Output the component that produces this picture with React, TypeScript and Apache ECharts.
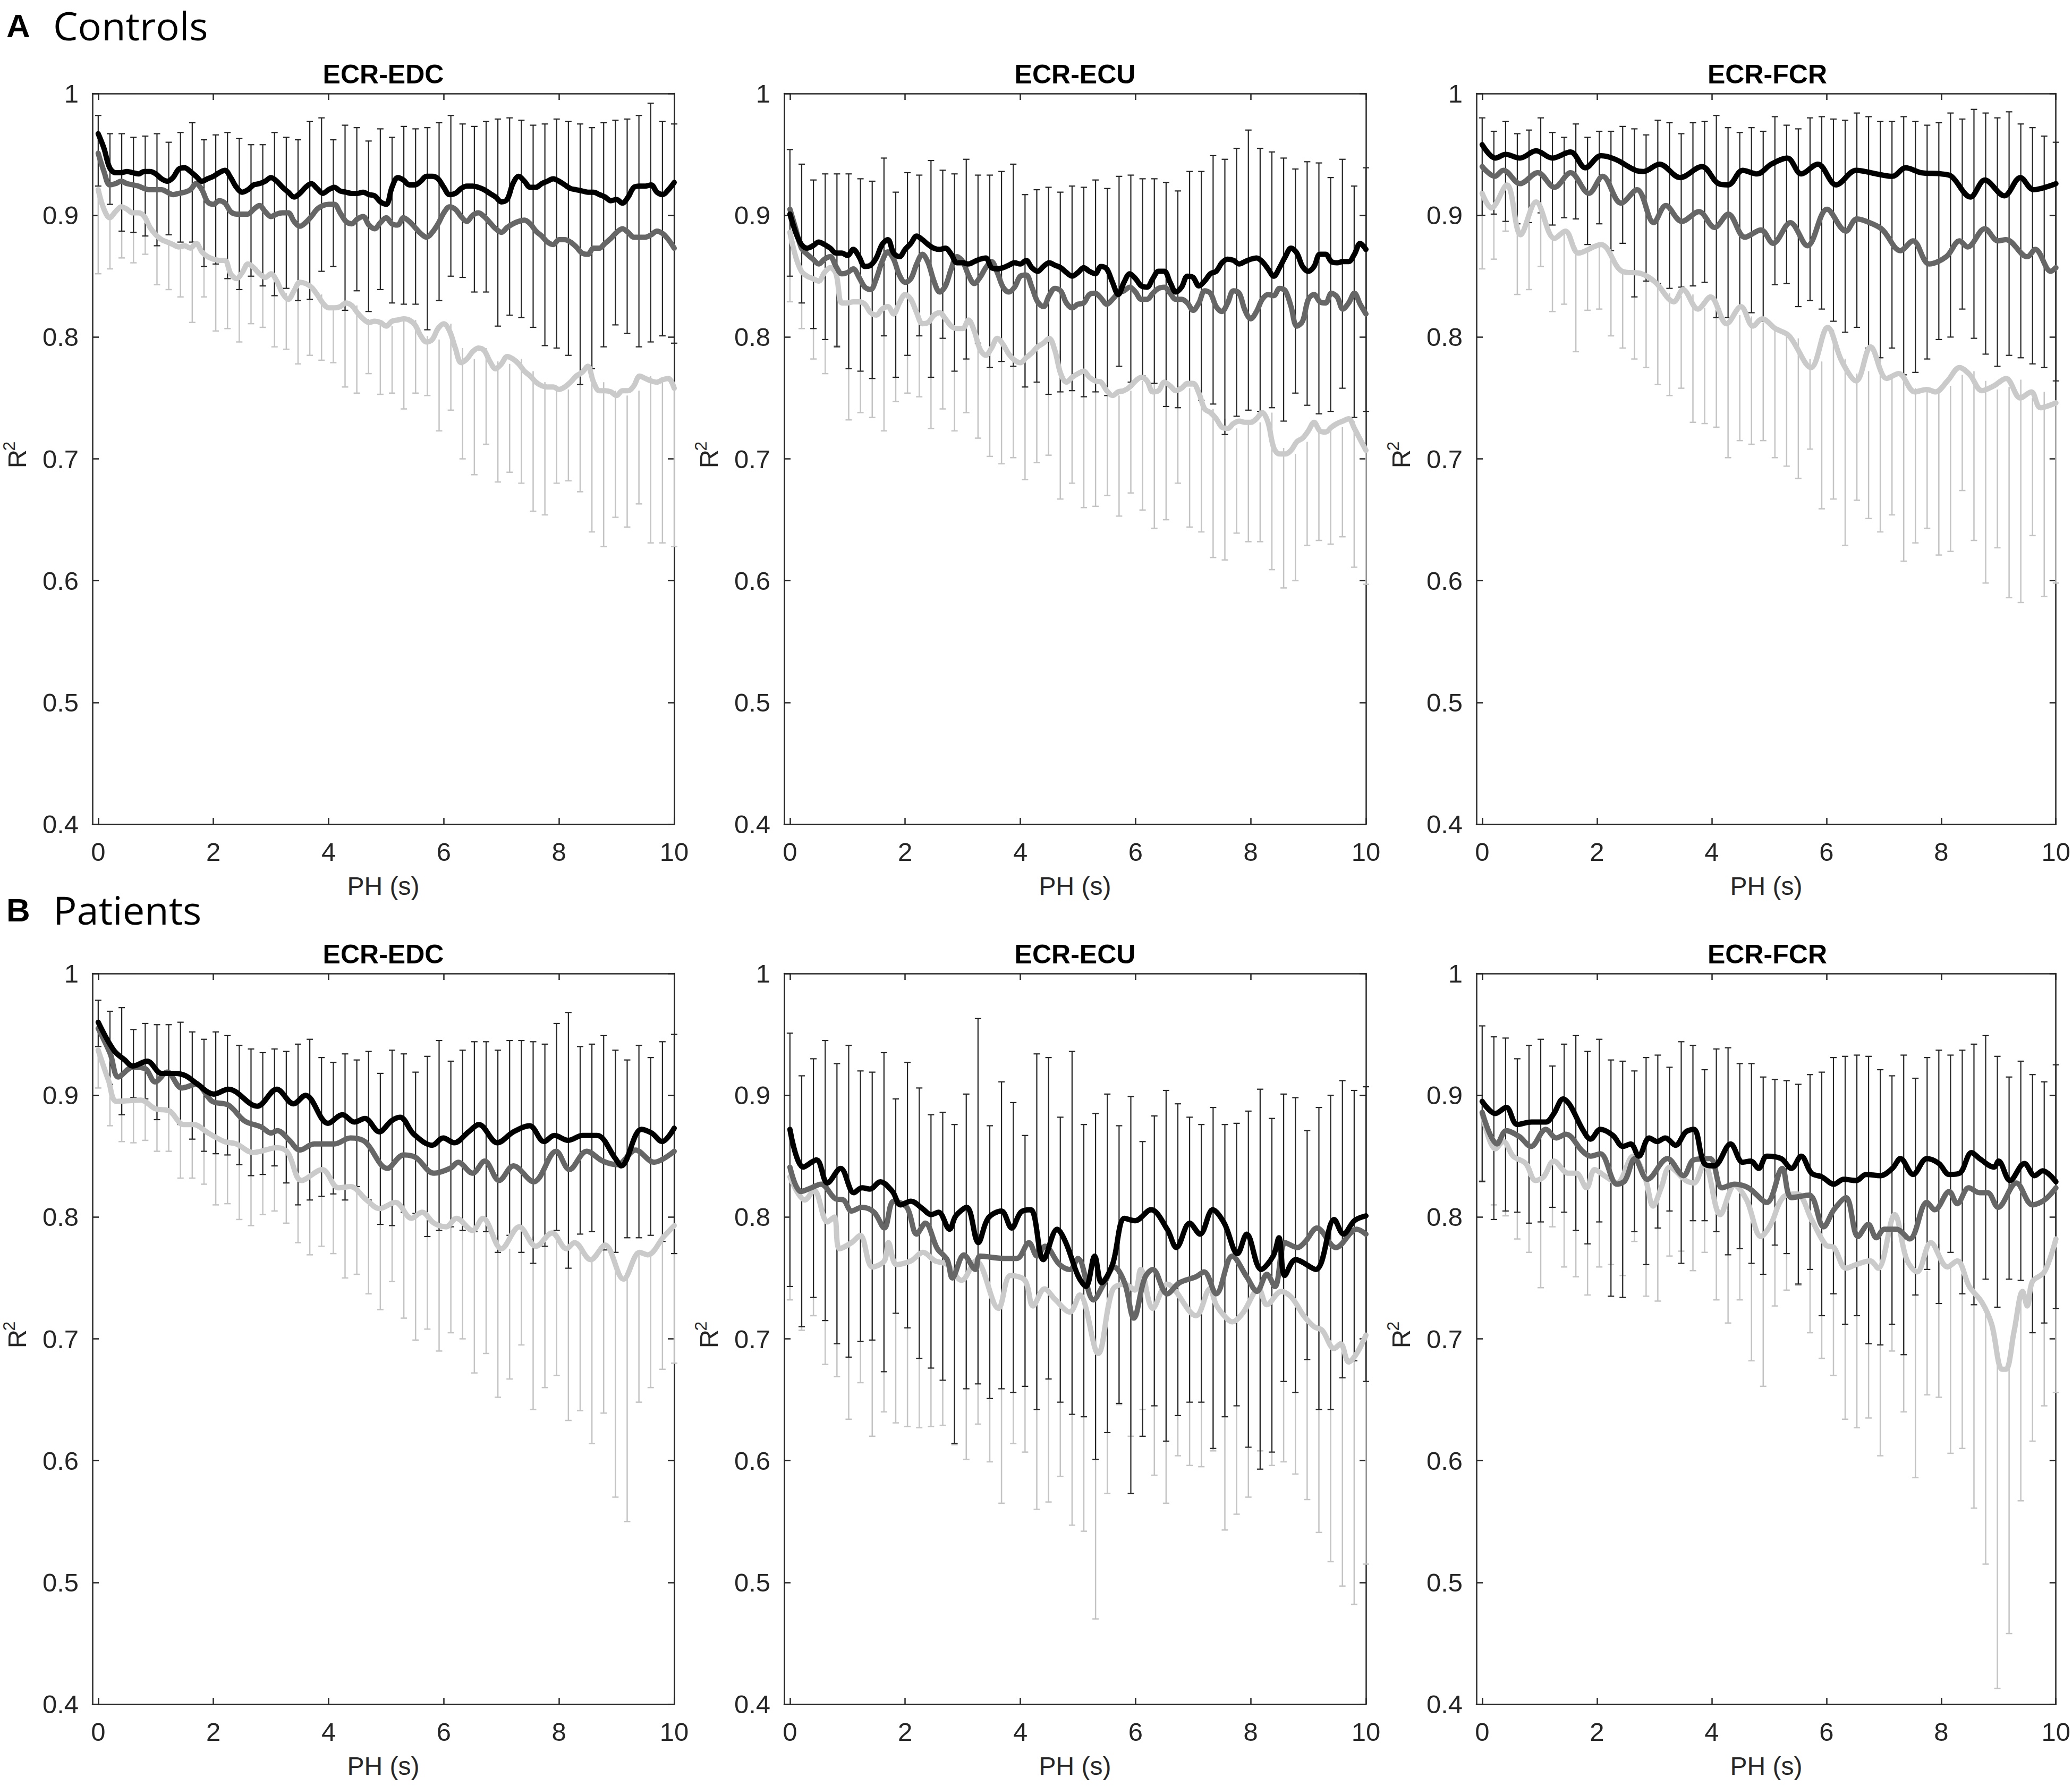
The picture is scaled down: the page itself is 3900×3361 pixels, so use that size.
import React, { useEffect, useRef } from "react";
import * as echarts from "echarts";

// ---------------- layout ----------------
const W = 3900;
const H = 3361;
const COL_LEFT = [174, 1476, 2779];
const ROW_TOP = [176, 1832];
const GW = 1095;
const GH = 1375;

// ---------------- axes ----------------
const X_TICKS = [0, 2, 4, 6, 8, 10];
const X_MIN = -0.1;
const X_MAX = 10;
const Y_MIN = 0.4;
const Y_MAX = 1;
const Y_STEP = 0.1;
const BAR_COUNT = 50;

const TITLES = ["ECR-EDC", "ECR-ECU", "ECR-FCR"];
const GROUP_LABELS = [["A", "Controls"], ["B", "Patients"]];

// ---------------- A: Controls, ECR-EDC (0.1 s steps) ----------------
const A_EDC_BLACK = [
  0.967,0.955,0.939,0.935,0.935,0.936,0.935,0.934,0.936,0.936,
  0.934,0.930,0.928,0.931,0.938,0.939,0.936,0.932,0.928,0.930,
  0.932,0.935,0.937,0.931,0.923,0.919,0.921,0.925,0.926,0.928,
  0.931,0.928,0.923,0.919,0.915,0.918,0.923,0.926,0.922,0.918,
  0.921,0.923,0.920,0.919,0.918,0.918,0.919,0.917,0.916,0.911,
  0.909,0.923,0.931,0.929,0.925,0.925,0.928,0.932,0.932,0.930,
  0.923,0.917,0.918,0.922,0.924,0.924,0.923,0.921,0.918,0.915,
  0.911,0.913,0.926,0.932,0.928,0.923,0.923,0.926,0.928,0.930,
  0.928,0.925,0.922,0.921,0.920,0.919,0.919,0.917,0.915,0.912,
  0.913,0.910,0.915,0.923,0.924,0.924,0.925,0.919,0.917,0.921,
  0.927,
];
const A_EDC_MED = [
  0.951,0.936,0.925,0.926,0.928,0.926,0.925,0.924,0.922,0.921,
  0.921,0.921,0.919,0.917,0.918,0.919,0.921,0.926,0.921,0.911,
  0.909,0.912,0.910,0.903,0.901,0.901,0.901,0.905,0.908,0.903,
  0.899,0.901,0.902,0.902,0.895,0.891,0.894,0.899,0.905,0.908,
  0.909,0.909,0.902,0.895,0.893,0.897,0.899,0.892,0.889,0.894,
  0.898,0.893,0.892,0.898,0.895,0.890,0.885,0.882,0.886,0.893,
  0.902,0.907,0.905,0.899,0.895,0.900,0.902,0.899,0.894,0.889,
  0.886,0.890,0.893,0.895,0.896,0.893,0.887,0.883,0.878,0.876,
  0.880,0.880,0.878,0.874,0.869,0.868,0.873,0.873,0.877,0.881,
  0.886,0.889,0.886,0.882,0.882,0.882,0.884,0.887,0.885,0.880,
  0.873,
];
const A_EDC_LIGHT = [
  0.921,0.905,0.898,0.903,0.907,0.905,0.902,0.902,0.899,0.890,
  0.884,0.880,0.878,0.876,0.874,0.875,0.873,0.877,0.870,0.866,
  0.864,0.863,0.863,0.852,0.848,0.853,0.860,0.857,0.852,0.849,
  0.852,0.846,0.836,0.831,0.838,0.845,0.844,0.841,0.835,0.828,
  0.824,0.824,0.825,0.828,0.826,0.820,0.815,0.812,0.813,0.812,
  0.809,0.813,0.814,0.815,0.814,0.810,0.801,0.796,0.798,0.807,
  0.811,0.805,0.791,0.779,0.782,0.788,0.791,0.789,0.780,0.774,
  0.778,0.784,0.782,0.778,0.772,0.768,0.763,0.760,0.759,0.759,
  0.757,0.759,0.763,0.768,0.771,0.776,0.763,0.756,0.756,0.755,
  0.752,0.756,0.756,0.760,0.768,0.766,0.764,0.763,0.765,0.766,
  0.758,
];
const A_EDC_DARK_MID = [0.953,0.938,0.927,0.925,0.924,0.921,0.922,0.923,0.927,0.910,0.913,0.908,0.901,0.904,0.900,0.901,0.902,0.896,0.904,0.917,0.910,0.898,0.905,0.891,0.905,0.896,0.900,0.899,0.889,0.903,0.916,0.912,0.905,0.907,0.894,0.899,0.897,0.891,0.884,0.885,0.881,0.868,0.873,0.884,0.894,0.891,0.887,0.894,0.889,0.885];
const A_EDC_DARK_SD = [0.029,0.029,0.040,0.039,0.041,0.046,0.038,0.045,0.049,0.052,0.053,0.060,0.062,0.054,0.058,0.067,0.062,0.066,0.073,0.063,0.052,0.076,0.067,0.070,0.066,0.068,0.073,0.072,0.083,0.073,0.066,0.063,0.068,0.070,0.085,0.081,0.081,0.083,0.091,0.094,0.096,0.107,0.099,0.092,0.084,0.088,0.095,0.098,0.088,0.090];
const A_EDC_LIGHT_MID = [0.921,0.898,0.907,0.902,0.899,0.884,0.878,0.874,0.873,0.870,0.864,0.863,0.848,0.860,0.852,0.852,0.836,0.838,0.844,0.835,0.824,0.825,0.826,0.815,0.813,0.809,0.814,0.814,0.801,0.798,0.811,0.791,0.782,0.791,0.780,0.778,0.782,0.772,0.763,0.759,0.757,0.763,0.771,0.763,0.756,0.752,0.756,0.768,0.764,0.758];
const A_EDC_LIGHT_SD = [0.069,0.042,0.042,0.041,0.031,0.041,0.039,0.041,0.061,0.037,0.059,0.056,0.052,0.049,0.044,0.060,0.046,0.060,0.059,0.054,0.045,0.066,0.072,0.045,0.060,0.055,0.073,0.060,0.049,0.075,0.071,0.091,0.095,0.079,0.099,0.089,0.102,0.115,0.109,0.079,0.075,0.090,0.131,0.135,0.104,0.108,0.093,0.137,0.133,0.130];

// ---------------- A: Controls, ECR-ECU (0.1 s steps) ----------------
const A_ECU_BLACK = [
  0.901,0.886,0.876,0.873,0.875,0.878,0.876,0.873,0.869,0.869,
  0.867,0.872,0.866,0.858,0.859,0.865,0.876,0.880,0.869,0.866,
  0.872,0.877,0.883,0.880,0.876,0.873,0.872,0.873,0.868,0.861,
  0.861,0.860,0.862,0.864,0.865,0.857,0.856,0.857,0.859,0.861,
  0.860,0.863,0.857,0.854,0.858,0.861,0.859,0.857,0.853,0.850,
  0.853,0.857,0.854,0.852,0.858,0.856,0.845,0.835,0.845,0.852,
  0.848,0.842,0.841,0.848,0.854,0.854,0.845,0.837,0.841,0.850,
  0.849,0.842,0.846,0.852,0.854,0.861,0.864,0.863,0.860,0.862,
  0.864,0.865,0.862,0.856,0.850,0.857,0.866,0.873,0.869,0.858,
  0.854,0.858,0.868,0.868,0.862,0.861,0.862,0.862,0.868,0.877,
  0.872,
];
const A_ECU_MED = [
  0.905,0.889,0.873,0.868,0.864,0.860,0.864,0.866,0.858,0.852,
  0.853,0.856,0.849,0.841,0.839,0.848,0.862,0.870,0.864,0.851,
  0.845,0.848,0.860,0.868,0.861,0.846,0.837,0.842,0.856,0.866,
  0.862,0.851,0.844,0.849,0.857,0.862,0.853,0.841,0.837,0.841,
  0.850,0.851,0.841,0.829,0.825,0.834,0.840,0.838,0.828,0.824,
  0.827,0.828,0.835,0.836,0.832,0.827,0.831,0.836,0.838,0.841,
  0.837,0.831,0.831,0.836,0.840,0.841,0.836,0.831,0.831,0.828,
  0.822,0.828,0.838,0.836,0.825,0.821,0.828,0.838,0.836,0.822,
  0.815,0.821,0.831,0.835,0.834,0.840,0.838,0.825,0.809,0.813,
  0.831,0.835,0.829,0.828,0.836,0.833,0.823,0.828,0.836,0.827,
  0.819,
];
const A_ECU_LIGHT = [
  0.886,0.866,0.854,0.850,0.848,0.846,0.853,0.857,0.852,0.828,
  0.828,0.829,0.829,0.827,0.820,0.818,0.823,0.825,0.819,0.828,
  0.835,0.831,0.820,0.811,0.812,0.818,0.820,0.815,0.809,0.807,
  0.807,0.814,0.805,0.790,0.785,0.791,0.799,0.794,0.786,0.781,
  0.779,0.783,0.787,0.792,0.795,0.799,0.789,0.770,0.763,0.767,
  0.770,0.772,0.767,0.764,0.763,0.756,0.752,0.755,0.756,0.759,
  0.764,0.767,0.764,0.755,0.756,0.763,0.760,0.756,0.758,0.762,
  0.762,0.754,0.741,0.738,0.733,0.726,0.725,0.729,0.731,0.730,
  0.730,0.733,0.738,0.730,0.709,0.704,0.704,0.707,0.714,0.717,
  0.723,0.730,0.723,0.722,0.726,0.729,0.731,0.733,0.725,0.716,
  0.707,
];
const A_ECU_DARK_MID = [0.902,0.885,0.868,0.866,0.863,0.854,0.851,0.847,0.874,0.843,0.860,0.867,0.856,0.868,0.853,0.864,0.864,0.854,0.858,0.859,0.838,0.842,0.838,0.837,0.840,0.837,0.842,0.837,0.854,0.848,0.849,0.846,0.835,0.831,0.848,0.842,0.847,0.833,0.845,0.855,0.847,0.847,0.839,0.846,0.844,0.840,0.835,0.852,0.829,0.839];
const A_ECU_DARK_SD = [0.052,0.057,0.061,0.068,0.071,0.080,0.079,0.081,0.073,0.076,0.075,0.066,0.089,0.069,0.081,0.082,0.069,0.079,0.078,0.083,0.079,0.079,0.085,0.082,0.084,0.086,0.087,0.085,0.078,0.085,0.081,0.084,0.092,0.089,0.088,0.094,0.102,0.113,0.110,0.115,0.108,0.105,0.108,0.092,0.100,0.103,0.096,0.094,0.095,0.100];
const A_ECU_LIGHT_MID = [0.886,0.854,0.848,0.853,0.852,0.828,0.829,0.820,0.823,0.819,0.835,0.820,0.812,0.820,0.809,0.807,0.805,0.785,0.799,0.786,0.779,0.787,0.795,0.789,0.763,0.770,0.767,0.763,0.752,0.756,0.764,0.764,0.756,0.760,0.758,0.762,0.741,0.733,0.725,0.731,0.730,0.738,0.709,0.704,0.714,0.723,0.723,0.726,0.731,0.707];
const A_ECU_LIGHT_SD = [0.057,0.047,0.066,0.083,0.059,0.096,0.091,0.086,0.100,0.072,0.081,0.069,0.087,0.079,0.086,0.069,0.088,0.083,0.103,0.085,0.096,0.090,0.092,0.122,0.083,0.110,0.106,0.093,0.099,0.084,0.106,0.121,0.106,0.080,0.114,0.122,0.122,0.116,0.086,0.099,0.098,0.129,0.115,0.104,0.085,0.090,0.093,0.090,0.120,0.110];

// ---------------- A: Controls, ECR-FCR ([PH, R2] turning points) ----------------
const A_FCR_BLACK = [[0,0.958],[0.23,0.947],[0.41,0.950],[0.66,0.947],[0.94,0.953],[1.22,0.947],[1.54,0.952],[1.8,0.939],[2.07,0.949],[2.32,0.946],[2.67,0.937],[2.81,0.936],[3.09,0.942],[3.45,0.931],[3.83,0.940],[4.12,0.926],[4.29,0.925],[4.54,0.937],[4.79,0.934],[5.04,0.942],[5.32,0.947],[5.56,0.934],[5.85,0.942],[6.17,0.925],[6.52,0.937],[6.87,0.934],[7.15,0.932],[7.38,0.939],[7.65,0.935],[8.0,0.934],[8.18,0.932],[8.51,0.915],[8.76,0.929],[9.1,0.916],[9.38,0.931],[9.61,0.921],[10,0.926]];
const A_FCR_MED = [[0,0.940],[0.22,0.932],[0.37,0.937],[0.66,0.926],[0.97,0.935],[1.26,0.923],[1.54,0.935],[1.86,0.918],[2.1,0.932],[2.42,0.910],[2.7,0.921],[2.99,0.894],[3.2,0.908],[3.48,0.895],[3.78,0.903],[4.05,0.890],[4.29,0.901],[4.58,0.882],[4.86,0.888],[5.07,0.877],[5.37,0.894],[5.67,0.875],[6.01,0.905],[6.34,0.887],[6.53,0.897],[6.8,0.893],[6.98,0.888],[7.29,0.871],[7.51,0.879],[7.79,0.860],[8.09,0.866],[8.32,0.879],[8.46,0.874],[8.76,0.889],[8.99,0.879],[9.13,0.880],[9.5,0.866],[9.64,0.872],[9.91,0.854],[10,0.857]];
const A_FCR_LIGHT = [[0,0.918],[0.16,0.906],[0.43,0.925],[0.67,0.884],[0.94,0.911],[1.26,0.881],[1.45,0.887],[1.68,0.869],[2.07,0.876],[2.44,0.854],[2.78,0.852],[3.02,0.845],[3.34,0.829],[3.5,0.839],[3.76,0.823],[3.98,0.833],[4.26,0.811],[4.51,0.825],[4.72,0.809],[4.88,0.815],[5.11,0.807],[5.35,0.801],[5.73,0.775],[6.02,0.808],[6.27,0.780],[6.52,0.764],[6.77,0.792],[7.05,0.766],[7.26,0.770],[7.54,0.755],[7.75,0.757],[7.9,0.755],[8.11,0.764],[8.32,0.775],[8.5,0.769],[8.71,0.756],[8.92,0.760],[9.13,0.766],[9.38,0.750],[9.57,0.755],[9.73,0.742],[10,0.746]];
const A_FCR_DARK_MID = [0.940,0.935,0.936,0.930,0.932,0.941,0.930,0.931,0.936,0.920,0.931,0.920,0.925,0.902,0.906,0.911,0.908,0.904,0.909,0.911,0.899,0.894,0.896,0.896,0.891,0.912,0.909,0.898,0.905,0.902,0.896,0.891,0.896,0.886,0.880,0.884,0.875,0.874,0.878,0.887,0.892,0.901,0.893,0.885,0.878,0.885,0.879,0.875,0.870,0.862];
const A_FCR_DARK_SD = [0.040,0.034,0.041,0.037,0.038,0.039,0.038,0.033,0.039,0.044,0.038,0.049,0.048,0.069,0.060,0.067,0.068,0.063,0.067,0.066,0.083,0.078,0.072,0.076,0.078,0.069,0.065,0.073,0.075,0.079,0.083,0.087,0.088,0.095,0.097,0.093,0.106,0.103,0.096,0.089,0.092,0.078,0.094,0.099,0.102,0.100,0.096,0.097,0.095,0.098];
const A_FCR_LIGHT_MID = [0.918,0.910,0.924,0.890,0.900,0.908,0.883,0.886,0.874,0.870,0.875,0.868,0.856,0.853,0.852,0.846,0.836,0.834,0.835,0.824,0.832,0.814,0.818,0.817,0.812,0.808,0.804,0.799,0.782,0.780,0.806,0.782,0.770,0.772,0.785,0.770,0.768,0.758,0.756,0.756,0.760,0.769,0.772,0.764,0.757,0.759,0.765,0.750,0.755,0.746];
const A_FCR_LIGHT_SD = [0.062,0.046,0.037,0.055,0.061,0.050,0.062,0.059,0.086,0.048,0.052,0.067,0.065,0.071,0.077,0.085,0.084,0.076,0.105,0.095,0.106,0.113,0.103,0.105,0.097,0.107,0.110,0.115,0.074,0.121,0.139,0.153,0.104,0.121,0.145,0.116,0.152,0.127,0.113,0.135,0.136,0.095,0.139,0.166,0.130,0.173,0.183,0.113,0.168,0.148];

// ---------------- B: Patients, ECR-EDC ----------------
const B_EDC_BLACK = [[0,0.960],[0.27,0.937],[0.46,0.929],[0.6,0.924],[0.85,0.928],[1.1,0.918],[1.34,0.918],[1.52,0.916],[1.7,0.910],[2.01,0.901],[2.26,0.905],[2.76,0.891],[3.1,0.905],[3.39,0.893],[3.6,0.900],[3.99,0.877],[4.24,0.884],[4.45,0.878],[4.63,0.881],[4.88,0.870],[5.09,0.879],[5.24,0.882],[5.48,0.868],[5.8,0.859],[5.99,0.865],[6.18,0.861],[6.43,0.870],[6.61,0.876],[6.93,0.861],[7.21,0.870],[7.49,0.875],[7.74,0.862],[7.92,0.867],[8.16,0.863],[8.41,0.867],[8.66,0.867],[8.98,0.848],[9.08,0.842],[9.43,0.872],[9.61,0.869],[9.79,0.862],[10,0.873]];
const B_EDC_MED = [[0,0.955],[0.21,0.934],[0.35,0.915],[0.6,0.923],[0.81,0.922],[0.99,0.911],[1.2,0.919],[1.45,0.906],[1.7,0.909],[1.98,0.895],[2.26,0.892],[2.54,0.879],[2.83,0.874],[3.0,0.869],[3.11,0.871],[3.32,0.863],[3.5,0.855],[3.75,0.860],[4.1,0.860],[4.38,0.865],[4.63,0.862],[5.02,0.840],[5.3,0.851],[5.51,0.849],[5.83,0.836],[6.11,0.840],[6.25,0.845],[6.5,0.836],[6.71,0.846],[6.96,0.830],[7.21,0.842],[7.56,0.829],[7.95,0.854],[8.18,0.839],[8.48,0.854],[8.76,0.846],[9.01,0.843],[9.33,0.855],[9.65,0.845],[10,0.854]];
const B_EDC_LIGHT = [[0,0.937],[0.18,0.912],[0.32,0.895],[0.74,0.896],[0.99,0.889],[1.24,0.887],[1.48,0.876],[1.66,0.876],[1.91,0.869],[2.19,0.862],[2.4,0.860],[2.69,0.853],[3.11,0.857],[3.29,0.853],[3.53,0.830],[3.89,0.839],[4.17,0.824],[4.38,0.825],[4.66,0.814],[4.88,0.807],[5.16,0.812],[5.44,0.799],[5.62,0.804],[5.83,0.795],[6.04,0.792],[6.22,0.799],[6.5,0.789],[6.68,0.799],[7.0,0.774],[7.31,0.792],[7.6,0.776],[7.88,0.787],[8.13,0.774],[8.27,0.779],[8.55,0.765],[8.8,0.777],[9.12,0.749],[9.4,0.771],[9.54,0.769],[9.82,0.784],[10,0.793]];
const B_EDC_DARK_MID = [0.959,0.939,0.928,0.926,0.928,0.919,0.923,0.918,0.908,0.900,0.902,0.900,0.892,0.886,0.885,0.890,0.882,0.876,0.880,0.874,0.873,0.874,0.877,0.875,0.856,0.865,0.869,0.861,0.858,0.867,0.860,0.863,0.866,0.866,0.854,0.865,0.858,0.853,0.859,0.874,0.863,0.863,0.865,0.861,0.854,0.856,0.862,0.858,0.862,0.860];
const B_EDC_DARK_SD = [0.019,0.030,0.044,0.028,0.031,0.039,0.035,0.042,0.044,0.046,0.050,0.049,0.049,0.052,0.050,0.048,0.054,0.066,0.066,0.057,0.054,0.060,0.052,0.061,0.062,0.072,0.065,0.058,0.074,0.078,0.068,0.074,0.078,0.078,0.083,0.080,0.087,0.091,0.083,0.085,0.105,0.077,0.077,0.088,0.083,0.073,0.079,0.073,0.082,0.090];
const B_EDC_LIGHT_MID = [0.937,0.910,0.895,0.896,0.895,0.888,0.887,0.877,0.876,0.872,0.866,0.862,0.860,0.855,0.855,0.856,0.856,0.840,0.830,0.836,0.838,0.824,0.825,0.815,0.809,0.810,0.811,0.800,0.804,0.796,0.792,0.799,0.792,0.797,0.785,0.774,0.790,0.784,0.776,0.783,0.775,0.776,0.766,0.776,0.760,0.752,0.770,0.769,0.783,0.793];
const B_EDC_LIGHT_SD = [0.031,0.035,0.033,0.035,0.032,0.034,0.033,0.045,0.044,0.045,0.056,0.051,0.062,0.062,0.053,0.051,0.061,0.061,0.061,0.060,0.068,0.074,0.072,0.078,0.085,0.063,0.094,0.101,0.096,0.106,0.087,0.099,0.120,0.109,0.133,0.107,0.095,0.142,0.116,0.113,0.142,0.135,0.152,0.137,0.190,0.202,0.122,0.109,0.108,0.113];

// ---------------- B: Patients, ECR-ECU ----------------
const B_ECU_BLACK = [[0,0.872],[0.23,0.841],[0.46,0.847],[0.65,0.828],[0.88,0.840],[1.11,0.820],[1.25,0.824],[1.39,0.823],[1.57,0.829],[1.78,0.821],[1.92,0.810],[2.1,0.813],[2.3,0.807],[2.45,0.802],[2.58,0.804],[2.77,0.790],[2.88,0.801],[3.07,0.808],[3.27,0.779],[3.44,0.799],[3.67,0.805],[3.85,0.791],[4.01,0.804],[4.18,0.806],[4.4,0.765],[4.64,0.790],[4.79,0.779],[5.0,0.752],[5.14,0.743],[5.29,0.768],[5.41,0.746],[5.6,0.761],[5.81,0.799],[5.99,0.797],[6.27,0.806],[6.55,0.790],[6.71,0.775],[6.94,0.795],[7.12,0.786],[7.34,0.806],[7.54,0.795],[7.77,0.770],[7.93,0.786],[8.18,0.757],[8.39,0.768],[8.49,0.783],[8.59,0.752],[8.78,0.765],[9.13,0.757],[9.45,0.798],[9.61,0.786],[9.8,0.797],[10,0.801]];
const B_ECU_MED = [[0,0.841],[0.19,0.821],[0.37,0.824],[0.54,0.827],[0.79,0.815],[0.93,0.814],[1.07,0.805],[1.25,0.808],[1.46,0.804],[1.64,0.791],[1.8,0.813],[2.03,0.808],[2.2,0.786],[2.35,0.795],[2.56,0.774],[2.73,0.765],[2.82,0.750],[3.02,0.769],[3.22,0.757],[3.3,0.768],[3.72,0.766],[3.94,0.766],[4.15,0.779],[4.29,0.768],[4.43,0.776],[4.68,0.761],[4.86,0.757],[5.0,0.766],[5.27,0.732],[5.46,0.746],[5.63,0.759],[5.81,0.746],[5.97,0.717],[6.16,0.750],[6.3,0.757],[6.55,0.737],[6.76,0.746],[7.05,0.751],[7.19,0.755],[7.4,0.737],[7.68,0.768],[7.93,0.751],[8.11,0.739],[8.28,0.753],[8.42,0.743],[8.6,0.779],[8.81,0.775],[8.95,0.780],[9.15,0.791],[9.48,0.775],[9.84,0.790],[10,0.786]];
const B_ECU_LIGHT = [[0,0.833],[0.26,0.814],[0.42,0.822],[0.65,0.796],[0.77,0.800],[0.86,0.774],[1.07,0.779],[1.22,0.785],[1.43,0.759],[1.64,0.764],[1.71,0.779],[1.85,0.761],[2.1,0.764],[2.31,0.771],[2.52,0.764],[2.73,0.761],[2.98,0.748],[3.23,0.764],[3.62,0.725],[3.83,0.752],[4.08,0.748],[4.22,0.727],[4.42,0.741],[4.61,0.732],[4.86,0.722],[5.03,0.736],[5.35,0.688],[5.6,0.740],[5.81,0.745],[5.99,0.740],[6.09,0.757],[6.3,0.725],[6.55,0.745],[7.05,0.719],[7.29,0.741],[7.4,0.728],[7.54,0.719],[7.68,0.714],[7.86,0.721],[8.14,0.741],[8.28,0.728],[8.53,0.739],[8.71,0.734],[8.92,0.719],[9.1,0.710],[9.24,0.707],[9.45,0.692],[9.56,0.696],[9.7,0.681],[9.84,0.688],[10,0.703]];
const B_ECU_DARK_MID = [0.847,0.813,0.832,0.830,0.811,0.813,0.809,0.809,0.804,0.809,0.818,0.795,0.780,0.776,0.745,0.780,0.813,0.763,0.785,0.775,0.764,0.788,0.799,0.765,0.787,0.756,0.743,0.762,0.761,0.736,0.741,0.764,0.760,0.765,0.765,0.762,0.750,0.756,0.761,0.749,0.749,0.744,0.783,0.777,0.777,0.766,0.771,0.790,0.793,0.786];
const B_ECU_DARK_SD = [0.104,0.103,0.098,0.115,0.115,0.128,0.111,0.110,0.131,0.088,0.109,0.111,0.104,0.110,0.131,0.121,0.150,0.112,0.126,0.119,0.103,0.146,0.132,0.117,0.149,0.120,0.142,0.139,0.114,0.163,0.121,0.119,0.144,0.128,0.117,0.114,0.140,0.120,0.116,0.138,0.156,0.137,0.118,0.121,0.094,0.124,0.129,0.122,0.111,0.121];
const B_ECU_LIGHT_MID = [0.833,0.818,0.822,0.798,0.790,0.776,0.785,0.759,0.764,0.762,0.764,0.768,0.766,0.762,0.754,0.756,0.760,0.740,0.728,0.750,0.748,0.734,0.738,0.729,0.722,0.730,0.690,0.730,0.743,0.742,0.752,0.728,0.744,0.735,0.727,0.740,0.731,0.719,0.717,0.730,0.740,0.733,0.738,0.728,0.714,0.708,0.695,0.692,0.685,0.703];
const B_ECU_LIGHT_SD = [0.101,0.111,0.103,0.119,0.121,0.142,0.121,0.139,0.124,0.131,0.136,0.141,0.138,0.133,0.141,0.155,0.130,0.141,0.163,0.136,0.141,0.174,0.172,0.142,0.175,0.188,0.220,0.157,0.097,0.122,0.110,0.140,0.179,0.131,0.131,0.145,0.123,0.176,0.161,0.160,0.132,0.137,0.139,0.139,0.146,0.167,0.178,0.195,0.203,0.188];

// ---------------- B: Patients, ECR-FCR ----------------
const B_FCR_BLACK = [[0,0.895],[0.23,0.885],[0.42,0.890],[0.61,0.876],[0.86,0.878],[1.11,0.878],[1.25,0.885],[1.41,0.897],[1.53,0.892],[1.75,0.872],[1.89,0.864],[2.06,0.872],[2.28,0.867],[2.45,0.858],[2.59,0.860],[2.73,0.850],[2.91,0.865],[3.05,0.862],[3.19,0.865],[3.37,0.859],[3.55,0.870],[3.69,0.872],[3.87,0.844],[4.04,0.842],[4.33,0.860],[4.54,0.845],[4.68,0.846],[4.82,0.840],[4.96,0.850],[5.21,0.848],[5.39,0.840],[5.56,0.850],[5.74,0.836],[5.92,0.833],[6.13,0.827],[6.3,0.831],[6.52,0.830],[6.69,0.835],[6.94,0.834],[7.15,0.840],[7.29,0.848],[7.51,0.835],[7.75,0.848],[7.96,0.844],[8.14,0.835],[8.32,0.836],[8.53,0.853],[8.67,0.848],[8.92,0.841],[9.0,0.846],[9.2,0.830],[9.45,0.844],[9.63,0.834],[9.77,0.838],[10,0.829]];
const B_FCR_MED = [[0,0.886],[0.26,0.860],[0.42,0.871],[0.65,0.866],[0.85,0.858],[1.11,0.872],[1.29,0.865],[1.46,0.868],[1.75,0.854],[1.89,0.850],[2.06,0.852],[2.35,0.827],[2.49,0.830],[2.66,0.848],[2.88,0.831],[3.23,0.848],[3.51,0.834],[3.69,0.847],[3.97,0.848],[4.18,0.824],[4.4,0.827],[4.64,0.824],[4.96,0.812],[5.23,0.840],[5.39,0.816],[5.7,0.818],[5.95,0.792],[6.13,0.806],[6.34,0.816],[6.55,0.784],[6.73,0.794],[6.87,0.783],[7.01,0.790],[7.22,0.790],[7.45,0.782],[7.75,0.812],[7.89,0.806],[8.14,0.821],[8.28,0.811],[8.48,0.824],[8.67,0.820],[8.81,0.820],[8.99,0.808],[9.31,0.828],[9.59,0.810],[9.8,0.814],[10,0.824]];
const B_FCR_LIGHT = [[0,0.885],[0.23,0.856],[0.37,0.862],[0.54,0.850],[0.76,0.844],[0.93,0.830],[1.07,0.833],[1.25,0.846],[1.5,0.836],[1.64,0.836],[1.82,0.824],[1.96,0.839],[2.13,0.834],[2.35,0.828],[2.63,0.850],[2.84,0.832],[2.98,0.809],[3.12,0.824],[3.27,0.841],[3.55,0.830],[3.69,0.828],[3.87,0.844],[4.15,0.802],[4.4,0.826],[4.61,0.814],[4.86,0.784],[5.03,0.794],[5.24,0.816],[5.49,0.819],[5.74,0.798],[5.99,0.777],[6.13,0.775],[6.34,0.758],[6.52,0.761],[6.76,0.764],[6.9,0.758],[7.19,0.802],[7.4,0.765],[7.58,0.755],[7.82,0.779],[8.11,0.759],[8.28,0.764],[8.49,0.743],[8.71,0.730],[8.88,0.712],[9.06,0.675],[9.13,0.675],[9.27,0.706],[9.42,0.739],[9.5,0.727],[9.59,0.747],[9.8,0.755],[10,0.782]];
const B_FCR_DARK_MID = [0.893,0.873,0.876,0.867,0.868,0.871,0.866,0.873,0.869,0.857,0.871,0.832,0.831,0.854,0.846,0.862,0.864,0.853,0.869,0.859,0.863,0.854,0.850,0.844,0.834,0.845,0.841,0.827,0.837,0.819,0.834,0.822,0.826,0.814,0.808,0.814,0.810,0.825,0.844,0.833,0.852,0.837,0.835,0.849,0.829,0.832,0.838,0.811,0.812,0.825];
const B_FCR_DARK_SD = [0.064,0.075,0.071,0.063,0.073,0.075,0.058,0.069,0.080,0.079,0.075,0.097,0.097,0.066,0.085,0.071,0.059,0.091,0.072,0.062,0.075,0.085,0.076,0.082,0.081,0.068,0.071,0.082,0.080,0.100,0.097,0.110,0.107,0.118,0.113,0.102,0.123,0.089,0.087,0.104,0.081,0.100,0.107,0.100,0.103,0.083,0.090,0.106,0.099,0.100];
const B_FCR_LIGHT_MID = [0.885,0.860,0.862,0.848,0.842,0.832,0.844,0.840,0.836,0.826,0.836,0.833,0.830,0.848,0.835,0.812,0.835,0.837,0.828,0.840,0.828,0.805,0.826,0.814,0.788,0.795,0.815,0.819,0.815,0.795,0.777,0.768,0.760,0.762,0.763,0.780,0.795,0.768,0.756,0.778,0.761,0.755,0.738,0.724,0.685,0.685,0.735,0.747,0.755,0.782];
const B_FCR_LIGHT_SD = [0.055,0.050,0.061,0.066,0.071,0.090,0.052,0.081,0.085,0.090,0.077,0.072,0.078,0.068,0.100,0.081,0.067,0.065,0.072,0.069,0.096,0.092,0.094,0.132,0.127,0.068,0.075,0.075,0.110,0.111,0.107,0.134,0.133,0.127,0.159,0.090,0.155,0.182,0.102,0.126,0.155,0.145,0.177,0.209,0.272,0.227,0.168,0.131,0.110,0.126];

// ---------------- panel table ----------------
const PANELS = [
  { row: 0, col: 0, black: A_EDC_BLACK, med: A_EDC_MED, light: A_EDC_LIGHT, dMid: A_EDC_DARK_MID, dSd: A_EDC_DARK_SD, lMid: A_EDC_LIGHT_MID, lSd: A_EDC_LIGHT_SD },
  { row: 0, col: 1, black: A_ECU_BLACK, med: A_ECU_MED, light: A_ECU_LIGHT, dMid: A_ECU_DARK_MID, dSd: A_ECU_DARK_SD, lMid: A_ECU_LIGHT_MID, lSd: A_ECU_LIGHT_SD },
  { row: 0, col: 2, black: A_FCR_BLACK, med: A_FCR_MED, light: A_FCR_LIGHT, dMid: A_FCR_DARK_MID, dSd: A_FCR_DARK_SD, lMid: A_FCR_LIGHT_MID, lSd: A_FCR_LIGHT_SD },
  { row: 1, col: 0, black: B_EDC_BLACK, med: B_EDC_MED, light: B_EDC_LIGHT, dMid: B_EDC_DARK_MID, dSd: B_EDC_DARK_SD, lMid: B_EDC_LIGHT_MID, lSd: B_EDC_LIGHT_SD },
  { row: 1, col: 1, black: B_ECU_BLACK, med: B_ECU_MED, light: B_ECU_LIGHT, dMid: B_ECU_DARK_MID, dSd: B_ECU_DARK_SD, lMid: B_ECU_LIGHT_MID, lSd: B_ECU_LIGHT_SD },
  { row: 1, col: 2, black: B_FCR_BLACK, med: B_FCR_MED, light: B_FCR_LIGHT, dMid: B_FCR_DARK_MID, dSd: B_FCR_DARK_SD, lMid: B_FCR_LIGHT_MID, lSd: B_FCR_LIGHT_SD },
];

// ---------------- styles ----------------
const C_BLACK = "#000000";
const C_MED = "#666666";
const C_LIGHT = "#cacaca";
const C_DARKBAR = "#262626";
const C_LIGHTBAR = "#c4c4c4";
const C_AXIS = "#262626";
const FONT = '"Liberation Sans", Arial, Helvetica, sans-serif';

function toPairs(d: any[]): number[][] {
  if (typeof d[0] === "number") return d.map((v: number, i: number) => [i / 10, v]);
  return d as number[][];
}

// dark bars: symmetric (mean +/- sd); light bars: only the lower whisker is visible in the figure
function barData(mid: number[], sd: number[], lowerOnly: boolean) {
  return mid.map((m, k) => [(k * 10) / (BAR_COUNT - 1), m - sd[k], lowerOnly ? m : m + sd[k]]);
}

function makeBarRenderer(color: string, width: number, capTop: boolean) {
  return (params: any, api: any) => {
    const x = api.value(0);
    const lo = api.value(1);
    const hi = api.value(2);
    const pLo = api.coord([x, lo]);
    const pHi = api.coord([x, hi]);
    const cap = 6;
    const style = { stroke: color, lineWidth: width, fill: null };
    const children: any[] = [
      { type: "line", shape: { x1: pLo[0], y1: pLo[1], x2: pHi[0], y2: pHi[1] }, style },
      { type: "line", shape: { x1: pLo[0] - cap, y1: pLo[1], x2: pLo[0] + cap, y2: pLo[1] }, style },
    ];
    if (capTop) {
      children.push({ type: "line", shape: { x1: pHi[0] - cap, y1: pHi[1], x2: pHi[0] + cap, y2: pHi[1] }, style });
    }
    return { type: "group", children };
  };
}

function buildOption() {
  const grid: any[] = [];
  const xAxis: any[] = [];
  const yAxis: any[] = [];
  const series: any[] = [];
  const graphic: any[] = [];
  const axisLineStyle = { color: C_AXIS, width: 2.5 };

  PANELS.forEach((p, g) => {
    const left = COL_LEFT[p.col];
    const top = ROW_TOP[p.row];
    grid.push({ left, top, width: GW, height: GH, containLabel: false });

    xAxis.push({
      gridIndex: g, type: "value", min: X_MIN, max: X_MAX, position: "bottom",
      name: "PH (s)", nameLocation: "middle", nameGap: 92,
      nameTextStyle: { fontFamily: FONT, fontSize: 48, color: C_AXIS },
      axisLine: { show: true, onZero: false, lineStyle: axisLineStyle },
      axisTick: { show: true, inside: true, length: 12, customValues: X_TICKS, lineStyle: axisLineStyle },
      axisLabel: { show: true, customValues: X_TICKS, margin: 27, fontFamily: FONT, fontSize: 49, color: C_AXIS },
      splitLine: { show: false },
    });
    xAxis.push({
      gridIndex: g, type: "value", min: X_MIN, max: X_MAX, position: "top",
      axisLine: { show: true, onZero: false, lineStyle: axisLineStyle },
      axisTick: { show: true, inside: true, length: 12, customValues: X_TICKS, lineStyle: axisLineStyle },
      axisLabel: { show: false },
      splitLine: { show: false },
    });
    yAxis.push({
      gridIndex: g, type: "value", min: Y_MIN, max: Y_MAX, interval: Y_STEP, position: "left",
      axisLine: { show: true, onZero: false, lineStyle: axisLineStyle },
      axisTick: { show: true, inside: true, length: 12, lineStyle: axisLineStyle },
      axisLabel: { show: true, margin: 26, fontFamily: FONT, fontSize: 49, color: C_AXIS,
        formatter: (v: number) => String(+v.toFixed(1)) },
      splitLine: { show: false },
    });
    yAxis.push({
      gridIndex: g, type: "value", min: Y_MIN, max: Y_MAX, interval: Y_STEP, position: "right",
      axisLine: { show: true, onZero: false, lineStyle: axisLineStyle },
      axisTick: { show: true, inside: true, length: 12, lineStyle: axisLineStyle },
      axisLabel: { show: false },
      splitLine: { show: false },
    });

    const xi = 2 * g;
    const yi = 2 * g;
    series.push({
      type: "custom", xAxisIndex: xi, yAxisIndex: yi, z: 2, silent: true, clip: false,
      renderItem: makeBarRenderer(C_LIGHTBAR, 2.5, false),
      encode: { x: 0, y: [1, 2] },
      data: barData(p.lMid, p.lSd, true),
    });
    series.push({
      type: "custom", xAxisIndex: xi, yAxisIndex: yi, z: 3, silent: true, clip: false,
      renderItem: makeBarRenderer(C_DARKBAR, 2.2, true),
      encode: { x: 0, y: [1, 2] },
      data: barData(p.dMid, p.dSd, false),
    });
    const lineSeries = (data: any[], color: string, z: number) => ({
      type: "line", xAxisIndex: xi, yAxisIndex: yi, z, silent: true,
      data: toPairs(data), smooth: 0.35, symbol: "none", showSymbol: false,
      lineStyle: { color, width: 10, cap: "round", join: "round" },
    });
    series.push(lineSeries(p.light, C_LIGHT, 4));
    series.push(lineSeries(p.med, C_MED, 5));
    series.push(lineSeries(p.black, C_BLACK, 6));

    // panel title
    graphic.push({
      type: "text", x: left + GW / 2, y: top - 36, silent: true,
      style: {
        text: TITLES[p.col], font: `bold 50px ${FONT}`, fill: "#000",
        align: "center", verticalAlign: "middle", textAlign: "center", textVerticalAlign: "middle",
      },
    });
    // R^2 label (rotated)
    graphic.push({
      type: "group", x: left - 142, y: top + GH / 2, rotation: Math.PI / 2, silent: true,
      children: [
        { type: "text", x: 0, y: 0, style: { text: "R", font: `49px ${FONT}`, fill: C_AXIS,
          align: "center", verticalAlign: "middle", textAlign: "center", textVerticalAlign: "middle" } },
        { type: "text", x: 24, y: -15, style: { text: "2", font: `32px ${FONT}`, fill: C_AXIS,
          align: "center", verticalAlign: "middle", textAlign: "center", textVerticalAlign: "middle" } },
      ],
    });
  });

  // group labels (A Controls / B Patients)
  const groupY = [48, 1712];
  GROUP_LABELS.forEach((lab, r) => {
    graphic.push({
      type: "text", x: 12, y: groupY[r], silent: true,
      style: { text: lab[0], font: `bold 62px ${FONT}`, fill: "#000",
        align: "left", verticalAlign: "middle", textAlign: "left", textVerticalAlign: "middle" },
    });
    graphic.push({
      type: "text", x: 100, y: groupY[r] - 1, silent: true,
      style: { text: lab[1], font: `74px "Open Sans", "Noto Sans", sans-serif`, fill: "#000",
        align: "left", verticalAlign: "middle", textAlign: "left", textVerticalAlign: "middle" },
    });
  });

  return {
    animation: false,
    backgroundColor: "#ffffff",
    grid, xAxis, yAxis, series, graphic,
  };
}

export default function App() {
  const ref = useRef<HTMLDivElement>(null);
  useEffect(() => {
    if (!ref.current) return;
    const chart = echarts.init(ref.current, null, { renderer: "svg", width: W, height: H });
    chart.setOption(buildOption() as any);
    return () => chart.dispose();
  }, []);
  return (
    <div
      ref={ref}
      style={{ position: "absolute", left: 0, top: 0, width: W, height: H, background: "#fff" }}
    />
  );
}
